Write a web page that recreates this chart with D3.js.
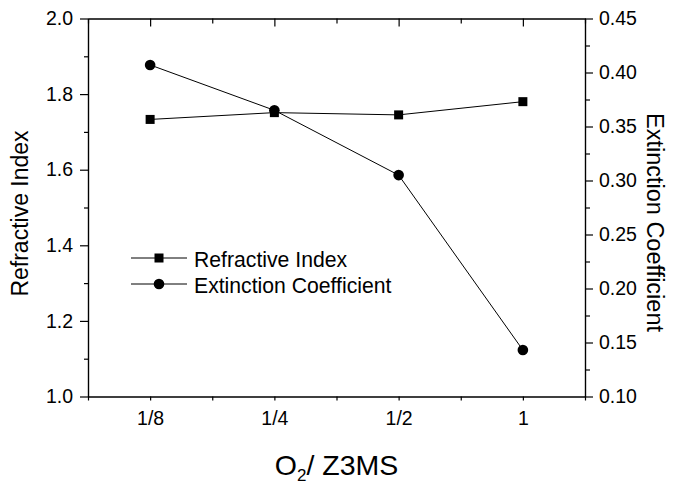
<!DOCTYPE html>
<html>
<head>
<meta charset="utf-8">
<script src="https://cdn.jsdelivr.net/npm/d3@7"></script>
<style>
  html, body { margin: 0; padding: 0; background: #fff; }
  svg { display: block; }
  text { font-family: "Liberation Sans", Arial, sans-serif; fill: #000; }
</style>
</head>
<body>
<svg id="chart" width="674" height="485"></svg>
<script>
// ---- Data ----
const categories = ["1/8", "1/4", "1/2", "1"];
const refractiveIndex = [1.733, 1.751, 1.745, 1.780];
const extinctionCoeff = [0.407, 0.365, 0.305, 0.143];
const leftTicks = [1.0, 1.2, 1.4, 1.6, 1.8, 2.0];
const leftMinor = [1.1, 1.3, 1.5, 1.7, 1.9];
const rightTicks = [0.10, 0.15, 0.20, 0.25, 0.30, 0.35, 0.40, 0.45];
const rightMinor = [0.125, 0.175, 0.225, 0.275, 0.325, 0.375, 0.425];
const seriesNames = ["Refractive Index", "Extinction Coefficient"];

// ---- Layout ----
const L = 88, R = 585, T = 18.5, B = 396.5;
const svg = d3.select("#chart");
const FS = 19.5;

const x = d3.scaleLinear().domain([0.5, categories.length + 0.5]).range([L, R]);
const yL = d3.scaleLinear().domain([1.0, 2.0]).range([B, T]);
const yR = d3.scaleLinear().domain([0.10, 0.45]).range([B, T]);

const majorX = categories.map((c, i) => i + 1);
const minorX = d3.range(0.5, categories.length + 0.75, 1);

function styleAxis(g) {
  g.selectAll("path.domain").attr("stroke", "#000").attr("stroke-width", 1.2);
  g.selectAll(".tick line").attr("stroke", "#000").attr("stroke-width", 1.2);
  g.selectAll(".tick text").style("font-size", FS + "px").attr("fill", "#000");
}

// bottom axis
svg.append("g").attr("transform", `translate(0,${B})`)
  .call(d3.axisBottom(x).tickValues(minorX).tickSize(4).tickFormat("").tickSizeOuter(0))
  .call(styleAxis);
svg.append("g").attr("transform", `translate(0,${B})`)
  .call(d3.axisBottom(x).tickValues(majorX).tickSize(4).tickPadding(11)
    .tickFormat((d) => categories[d - 1]).tickSizeOuter(0))
  .call(styleAxis);

// top axis (inward ticks)
svg.append("g").attr("transform", `translate(0,${T})`)
  .call(d3.axisBottom(x).tickValues(minorX).tickSize(5).tickFormat("").tickSizeOuter(0))
  .call(styleAxis);
svg.append("g").attr("transform", `translate(0,${T})`)
  .call(d3.axisBottom(x).tickValues(majorX).tickSize(8).tickFormat("").tickSizeOuter(0))
  .call(styleAxis);

// left axis
svg.append("g").attr("transform", `translate(${L},0)`)
  .call(d3.axisLeft(yL).tickValues(leftMinor).tickSize(4).tickFormat("").tickSizeOuter(0))
  .call(styleAxis);
svg.append("g").attr("transform", `translate(${L},0)`)
  .call(d3.axisLeft(yL).tickValues(leftTicks).tickSize(8).tickPadding(7)
    .tickFormat(d3.format(".1f")).tickSizeOuter(0))
  .call(styleAxis);

// right axis
svg.append("g").attr("transform", `translate(${R},0)`)
  .call(d3.axisRight(yR).tickValues(rightMinor).tickSize(5).tickFormat("").tickSizeOuter(0))
  .call(styleAxis);
svg.append("g").attr("transform", `translate(${R},0)`)
  .call(d3.axisRight(yR).tickValues(rightTicks).tickSize(8).tickPadding(6)
    .tickFormat(d3.format(".2f")).tickSizeOuter(0))
  .call(styleAxis);

// ---- Series ----
const riPts = refractiveIndex.map((v, i) => [x(i + 1), yL(v)]);
const ecPts = extinctionCoeff.map((v, i) => [x(i + 1), yR(v)]);
const line = d3.line();

svg.append("path").attr("d", line(riPts)).attr("fill", "none")
  .attr("stroke", "#000").attr("stroke-width", 1);
svg.append("path").attr("d", line(ecPts)).attr("fill", "none")
  .attr("stroke", "#000").attr("stroke-width", 1);

const SQ = 9;
svg.selectAll("rect.ri").data(riPts).enter().append("rect")
  .attr("class", "ri")
  .attr("x", (d) => d[0] - SQ / 2).attr("y", (d) => d[1] - SQ / 2)
  .attr("width", SQ).attr("height", SQ).attr("fill", "#000");
svg.selectAll("circle.ec").data(ecPts).enter().append("circle")
  .attr("class", "ec")
  .attr("cx", (d) => d[0]).attr("cy", (d) => d[1]).attr("r", 5.3).attr("fill", "#000");

// ---- Legend ----
const legend = svg.append("g");
const legRows = [258, 284];
seriesNames.forEach((name, i) => {
  const y = legRows[i];
  legend.append("line").attr("x1", 131).attr("x2", 187).attr("y1", y).attr("y2", y)
    .attr("stroke", "#000").attr("stroke-width", 1);
  if (i === 0) {
    legend.append("rect").attr("x", 159 - SQ / 2).attr("y", y - SQ / 2)
      .attr("width", SQ).attr("height", SQ).attr("fill", "#000");
  } else {
    legend.append("circle").attr("cx", 159).attr("cy", y).attr("r", 5.3).attr("fill", "#000");
  }
  legend.append("text").attr("x", 194).attr("y", y + 8.5)
    .style("font-size", "21.2px").text(name);
});

// ---- Axis titles ----
svg.append("text")
  .attr("transform", `translate(28,${(T + B) / 2 + 6}) rotate(-90)`)
  .attr("text-anchor", "middle").style("font-size", "23px")
  .text("Refractive Index");

svg.append("text")
  .attr("transform", `translate(647,${(T + B) / 2 + 15}) rotate(90)`)
  .attr("text-anchor", "middle").style("font-size", "23.5px")
  .text("Extinction Coefficient");

const xt = svg.append("text")
  .attr("x", (L + R) / 2).attr("y", 475)
  .attr("text-anchor", "middle").style("font-size", "28.5px");
xt.append("tspan").text("O");
xt.append("tspan").attr("dy", 6).style("font-size", "17px").text("2");
xt.append("tspan").attr("dy", -6).text("/ Z3MS");
</script>
</body>
</html>
